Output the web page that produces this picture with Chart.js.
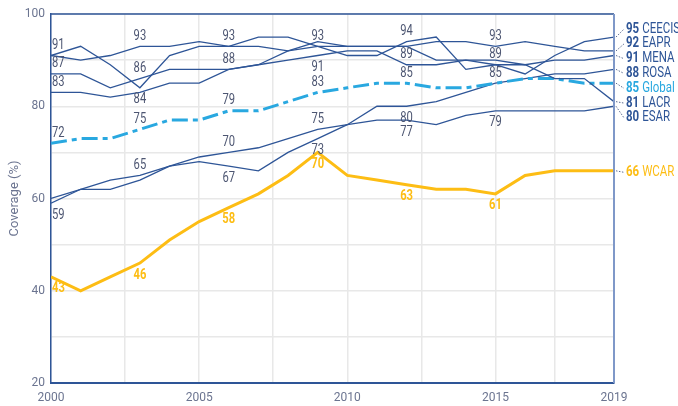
<!DOCTYPE html>
<html>
<head>
<meta charset="utf-8">
<script src="https://cdn.jsdelivr.net/npm/chart.js@4/dist/chart.umd.min.js"></script>
<style>
  html, body { margin: 0; padding: 0; background: #fff; }
</style>
</head>
<body>
<canvas id="chart" width="678" height="406"></canvas>
<script>
// Immunization coverage by region, 2000-2019

const years = [2000, 2001, 2002, 2003, 2004, 2005, 2006, 2007, 2008, 2009,
               2010, 2011, 2012, 2013, 2014, 2015, 2016, 2017, 2018, 2019];

const CEECIS = [91, 90, 91, 93, 93, 94, 93, 95, 95, 93, 91, 91, 94, 95, 88, 89, 87, 91, 94, 95];
const EAPR   = [91, 93, 89, 84, 91, 93, 93, 93, 92, 93, 93, 93, 93, 94, 94, 93, 94, 93, 92, 92];
const MENA   = [87, 87, 84, 86, 88, 88, 88, 89, 90, 91, 92, 92, 89, 89, 90, 89, 89, 90, 90, 91];
const ROSA   = [60, 62, 62, 64, 67, 68, 67, 66, 70, 73, 76, 80, 80, 81, 83, 85, 86, 87, 87, 88];
const GLOBAL = [72, 73, 73, 75, 77, 77, 79, 79, 81, 83, 84, 85, 85, 84, 84, 85, 86, 86, 85, 85];
const LACR   = [83, 83, 82, 83, 85, 85, 88, 89, 92, 94, 93, 93, 93, 90, 90, 90, 89, 86, 86, 81];
const ESAR   = [59, 62, 64, 65, 67, 69, 70, 71, 73, 75, 76, 77, 77, 76, 78, 79, 79, 79, 79, 80];
const WCAR   = [43, 40, 43, 46, 51, 55, 58, 61, 65, 70, 65, 64, 63, 62, 62, 61, 65, 66, 66, 66];

// x gridlines and which of them carry a label
const gridYears    = [2000, 2002.5, 2005, 2007.5, 2010, 2012.5, 2015, 2017, 2019];
const labeledYears = [2000, 2005, 2010, 2015, 2019];

// point labels: [series, year, side]
const pointLabels = [
  ["CEECIS", 2000, "above"], ["MENA", 2000, "above"], ["LACR", 2000, "above"],
  ["Global", 2000, "above"], ["ESAR", 2000, "below"], ["WCAR", 2000, "below"],
  ["CEECIS", 2003, "above"], ["MENA", 2003, "above"], ["EAPR", 2003, "below"],
  ["Global", 2003, "above"], ["ESAR", 2003, "above"], ["WCAR", 2003, "below"],
  ["CEECIS", 2006, "above"], ["MENA", 2006, "above"], ["Global", 2006, "above"],
  ["ESAR", 2006, "above"], ["ROSA", 2006, "below"], ["WCAR", 2006, "below"],
  ["CEECIS", 2009, "above"], ["MENA", 2009, "below"], ["Global", 2009, "above"],
  ["ESAR", 2009, "above"], ["ROSA", 2009, "below"], ["WCAR", 2009, "below"],
  ["CEECIS", 2012, "above"], ["MENA", 2012, "above"], ["Global", 2012, "above"],
  ["ROSA", 2012, "below"], ["ESAR", 2012, "below"], ["WCAR", 2012, "below"],
  ["EAPR", 2015, "above"], ["CEECIS", 2015, "above"], ["ROSA", 2015, "above"],
  ["ESAR", 2015, "below"], ["WCAR", 2015, "below"]
];

const FONT  = "Roboto, 'Liberation Sans', sans-serif";
const NAVY  = "#2e5597";
const SKY   = "#29a8e0";
const GOLD  = "#fdbd14";
const GREY  = "#4d5672";

const series = [
  { name: "CEECIS", data: CEECIS, color: NAVY },
  { name: "EAPR",   data: EAPR,   color: NAVY },
  { name: "MENA",   data: MENA,   color: NAVY },
  { name: "ROSA",   data: ROSA,   color: NAVY },
  { name: "Global", data: GLOBAL, color: SKY,  width: 3, dash: [16, 5, 5, 5], end: SKY },
  { name: "LACR",   data: LACR,   color: NAVY },
  { name: "ESAR",   data: ESAR,   color: NAVY },
  { name: "WCAR",   data: WCAR,   color: GOLD, width: 3, text: GOLD, end: GOLD, bold: true }
];

const byName = {};
series.forEach(s => byName[s.name] = s);

function spread(items, gap) {
  items.sort((a, b) => a.y - b.y);
  const groups = items.map(it => ({ items: [it], top: it.y }));
  let merged = true;
  while (merged) {
    merged = false;
    for (let i = 0; i < groups.length - 1; i++) {
      const g = groups[i], h = groups[i + 1];
      if (g.top + g.items.length * gap > h.top) {
        const all = g.items.concat(h.items);
        const mean = all.reduce((s, it) => s + it.y, 0) / all.length;
        groups.splice(i, 2, { items: all, top: mean - (all.length - 1) * gap / 2 });
        merged = true;
        break;
      }
    }
  }
  groups.forEach(g => g.items.forEach((it, k) => it.ly = g.top + k * gap));
}

// draws horizontally narrowed text, returns drawn width
function narrowText(ctx, txt, x, y, align, sx) {
  const w = ctx.measureText(txt).width * sx;
  const left = align === "center" ? x - w / 2 : x;
  ctx.save();
  ctx.translate(left, y);
  ctx.scale(sx, 1);
  ctx.textAlign = "left";
  ctx.fillText(txt, 0, 0);
  ctx.restore();
  return w;
}

const framePlugin = {
  id: "frame",
  afterDatasetsDraw(chart) {
    const { ctx, chartArea: a, scales: { x, y } } = chart;
    ctx.save();

    // top and right edges of the frame
    ctx.lineWidth = 1.5;
    ctx.strokeStyle = NAVY;
    ctx.beginPath(); ctx.moveTo(a.left, a.top); ctx.lineTo(a.right, a.top); ctx.stroke();
    ctx.lineWidth = 2;
    ctx.strokeStyle = "#7f98c8";
    ctx.beginPath(); ctx.moveTo(a.right, a.top); ctx.lineTo(a.right, a.bottom); ctx.stroke();

    // point labels
    ctx.textBaseline = "middle";
    pointLabels.forEach(([name, year, side]) => {
      const s = byName[name];
      const v = s.data[years.indexOf(year)];
      const px = x.getPixelForValue(year);
      const py = y.getPixelForValue(v);
      ctx.font = (s.bold ? "bold " : "") + "14px " + FONT;
      ctx.fillStyle = s.text || GREY;
      const first = year === years[0];
      narrowText(ctx, String(v), first ? px + 1 : px, side === "above" ? py - 10 : py + 12,
                 first ? "left" : "center", 0.8);
    });

    // end labels with dotted leaders
    const last = years.length - 1;
    const ends = series.map(s => ({ s, y: y.getPixelForValue(s.data[last]) }));
    spread(ends, 14.8);
    ends.forEach(e => {
      const ly = e.ly + 1.5;
      ctx.setLineDash([1.5, 1.5]);
      ctx.lineWidth = 1;
      ctx.strokeStyle = "#5a6a90";
      ctx.beginPath();
      ctx.moveTo(a.right + 2, e.y);
      ctx.lineTo(a.right + 10, ly);
      ctx.stroke();
      ctx.setLineDash([]);
      ctx.fillStyle = e.s.end || NAVY;
      ctx.font = "bold 14px " + FONT;
      const w = narrowText(ctx, String(e.s.data[last]), a.right + 12, ly, "left", 0.82);
      ctx.font = "14px " + FONT;
      narrowText(ctx, e.s.name, a.right + 12 + w + 3, ly, "left", 0.82);
    });
    ctx.restore();
  }
};

new Chart(document.getElementById("chart"), {
  type: "line",
  data: {
    datasets: series.map(s => ({
      label: s.name,
      data: years.map((yr, i) => ({ x: yr, y: s.data[i] })),
      borderColor: s.color,
      borderWidth: s.width || 1.3,
      borderDash: s.dash || [],
      pointRadius: 0,
      tension: 0,
      fill: false
    })).reverse()
  },
  options: {
    responsive: false,
    animation: false,
    devicePixelRatio: 1,
    layout: { padding: { left: 3, right: 64, top: 14, bottom: 0 } },
    plugins: { legend: { display: false }, tooltip: { enabled: false } },
    scales: {
      x: {
        type: "linear",
        min: 2000,
        max: 2019,
        afterBuildTicks: axis => { axis.ticks = gridYears.map(v => ({ value: v })); },
        afterFit: scale => { scale.height = 23; },
        grid: { color: "#e8e8e8", lineWidth: 1.5, drawTicks: false },
        border: { color: NAVY, width: 2 },
        ticks: {
          autoSkip: false,
          maxRotation: 0,
          padding: 8,
          color: "#6b7490",
          font: { family: FONT, size: 12 },
          callback: v => labeledYears.includes(v) ? String(v) : ""
        }
      },
      y: {
        min: 20,
        max: 100,
        afterFit: scale => { scale.width = 48; },
        grid: { color: "#e8e8e8", lineWidth: 1.5, drawTicks: false },
        border: { color: NAVY, width: 1.5 },
        ticks: {
          stepSize: 10,
          padding: 6,
          color: "#6b7490",
          font: { family: FONT, size: 12 },
          callback: v => v % 20 === 0 ? String(v) : ""
        },
        title: {
          display: true,
          text: "Coverage (%)",
          color: "#6b7490",
          font: { family: FONT, size: 13 },
          padding: { top: 4, bottom: 0 }
        }
      }
    }
  },
  plugins: [framePlugin]
});
</script>
</body>
</html>
